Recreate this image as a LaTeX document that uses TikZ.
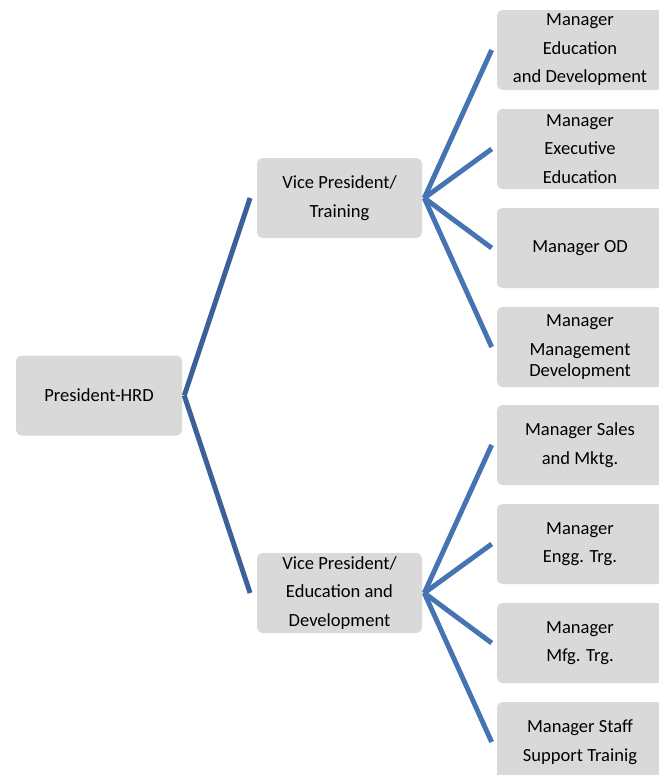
\documentclass[tikz,border=0pt]{standalone}
\usepackage{fontspec}
\setmainfont{Carlito}
\definecolor{boxgray}{RGB}{217,217,217}
\definecolor{linkdark}{RGB}{59,98,152}
\definecolor{linklight}{RGB}{70,115,177}
\tikzset{
  unitbox/.style={fill=boxgray, rounded corners=4pt, inner sep=0pt,
    align=center, font=\fontsize{13.9}{21.4}\selectfont, text=black},
  topbox/.style={unitbox, minimum width=124.5pt, minimum height=60pt},
  vpbox/.style={unitbox, minimum width=123.75pt, minimum height=60pt},
  mgrbox/.style={unitbox, minimum width=124.5pt, minimum height=60pt},
  linkmain/.style={draw=linkdark, line width=3.7pt},
  linkmgr/.style={draw=linklight, line width=3.7pt},
}
\begin{document}
\begin{tikzpicture}[x=0.75pt, y=-0.75pt]
\useasboundingbox (0,0) rectangle (659,775);
\begin{scope}
\clip (0,0) rectangle (659,775);

% top level
\node[topbox] (pres) at (99,395.5) {President-HRD};

% vice presidents
\node[vpbox] (vpt) at (339.5,198) {Vice President/\\Training};
\node[vpbox] (vpe) at (339.5,593) {Vice President/\\Education and\\Development};

% managers (the column runs past the right edge)
\node[mgrbox] (m1) at (580,50) {Manager\\Education\\and Development};
\node[mgrbox] (m2) at (580,149) {Manager\\Executive\\Education};
\node[mgrbox] (m3) at (580,248) {Manager OD};
\node[mgrbox] (m4) at (580,347) {Manager\\Management\\[-5.6pt]Development};
\node[mgrbox] (m5) at (580,445) {Manager Sales\\and Mktg.};
\node[mgrbox] (m6) at (580,544) {Manager\\Engg. Trg.};
\node[mgrbox] (m7) at (580,643) {Manager\\Mfg. Trg.};
\node[mgrbox] (m8) at (580,742) {Manager Staff\\Support Trainig};

% connectors
\coordinate (presout) at ([xshift=1.5pt]pres.east);
\draw[linkmain] (presout) -- ([xshift=-5pt]vpt.west);
\draw[linkmain] (presout) -- ([xshift=-5pt]vpe.west);

\coordinate (vptout) at ([xshift=1.5pt]vpt.east);
\foreach \m in {m1,m2,m3,m4}
  \draw[linkmgr] (vptout) -- ([xshift=-3.8pt]\m.west);

\coordinate (vpeout) at ([xshift=1.5pt]vpe.east);
\foreach \m in {m5,m6,m7,m8}
  \draw[linkmgr] (vpeout) -- ([xshift=-3.8pt]\m.west);
\end{scope}
\end{tikzpicture}
\end{document}
